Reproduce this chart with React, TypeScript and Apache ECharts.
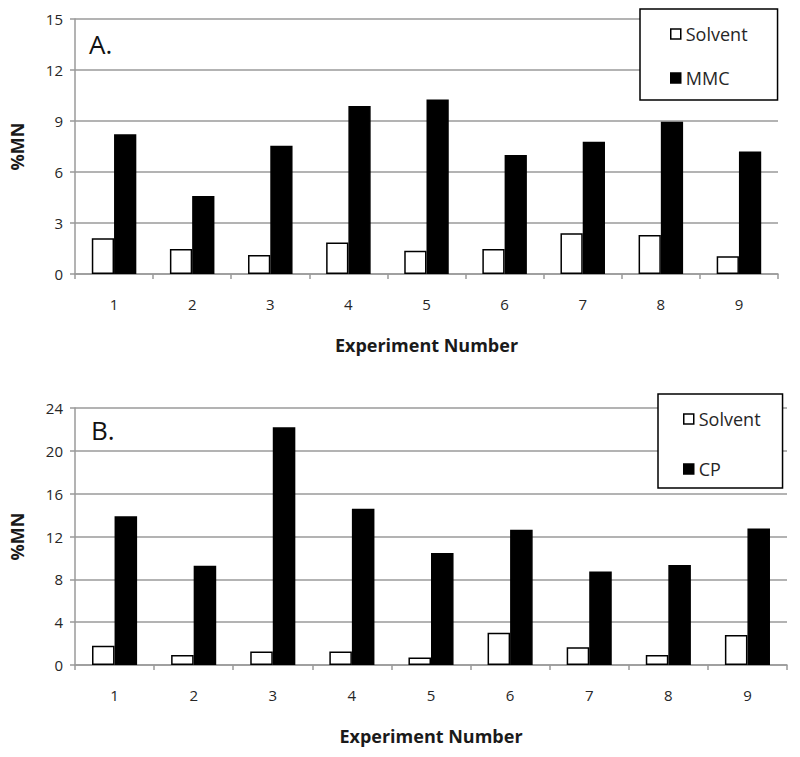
import React, { useEffect, useRef } from "react";
import * as echarts from "echarts";

const categories = ["1", "2", "3", "4", "5", "6", "7", "8", "9"];
const solventA = [2.1, 1.47, 1.12, 1.86, 1.37, 1.47, 2.39, 2.29, 1.04];
const mmcA = [8.22, 4.59, 7.55, 9.88, 10.27, 7.0, 7.78, 8.96, 7.2];
const solventB = [1.8, 0.94, 1.25, 1.25, 0.69, 3.02, 1.65, 0.94, 2.81];
const cpB = [13.9, 9.26, 22.2, 14.6, 10.45, 12.63, 8.73, 9.35, 12.75];
const yTicksA = { min: 0, max: 15, interval: 3 };
const yTicksB = { min: 0, max: 24, interval: 4 };

const FONT = "'Open Sans', 'Noto Sans', sans-serif";
const GRAY = "#9a9a9a";
const TEXT = "#262626";

export default function App() {
  const ref = useRef<HTMLDivElement>(null);
  useEffect(() => {
    if (!ref.current) return;
    const chart = echarts.init(ref.current, undefined, { renderer: "svg" });

    const xAxisBase = (gridIndex: number) => ({
      type: "category" as const,
      gridIndex,
      data: categories,
      name: "Experiment Number",
      nameLocation: "middle" as const,
      nameGap: 62,
      nameTextStyle: { fontFamily: FONT, fontSize: 18, fontWeight: "bold", color: "#1a1a1a" },
      axisLine: { show: true, lineStyle: { color: GRAY, width: 1.5 } },
      axisTick: { show: true, alignWithLabel: false, length: 5, lineStyle: { color: GRAY, width: 1.5 } },
      axisLabel: { fontFamily: FONT, fontSize: 15, color: TEXT, margin: 22 },
      splitLine: { show: false },
    });
    const yAxisBase = (gridIndex: number, t: { min: number; max: number; interval: number }) => ({
      type: "value" as const,
      gridIndex,
      min: t.min,
      max: t.max,
      interval: t.interval,
      name: "%MN",
      nameLocation: "middle" as const,
      nameGap: 49,
      nameRotate: 90,
      nameTextStyle: { fontFamily: FONT, fontSize: 18, fontWeight: "bold", color: "#1a1a1a" },
      axisLine: { show: true, lineStyle: { color: GRAY, width: 1.5 } },
      axisTick: { show: true, length: 5, lineStyle: { color: GRAY, width: 1.5 } },
      axisLabel: { fontFamily: FONT, fontSize: 15, color: TEXT, margin: 12 },
      splitLine: { show: true, lineStyle: { color: GRAY, width: 1.5 } },
    });
    const barBase = {
      type: "bar" as const,
      barGap: "0%",
      barCategoryGap: "43%",
    };
    const solventStyle = { color: "#ffffff", borderColor: "#000", borderWidth: 1.5 };
    const blackStyle = { color: "#000000", borderColor: "#000", borderWidth: 1.5 };

    const legendBase = {
      orient: "vertical" as const,
      icon: "rect",
      itemWidth: 10,
      itemHeight: 10,
      borderColor: "#000",
      borderWidth: 1.5,
      backgroundColor: "#fff",
      textStyle: { fontFamily: FONT, fontSize: 18, color: TEXT, lineHeight: 16 },
      itemStyle: { borderWidth: 1.5 },
    };

    chart.setOption({
      animation: false,
      backgroundColor: "#fff",
      grid: [
        { left: 75, right: 22, top: 19, height: 255 },
        { left: 74, right: 13, top: 408, height: 257 },
      ],
      xAxis: [xAxisBase(0), xAxisBase(1)],
      yAxis: [yAxisBase(0, yTicksA), yAxisBase(1, yTicksB)],
      legend: [
        {
          ...legendBase,
          data: ["Solvent", "MMC"],
          left: 640,
          top: 9,
          itemGap: 26,
          padding: [16, 30, 13, 30],
        },
        {
          ...legendBase,
          data: ["Solvent ", "CP"],
          formatter: (n: string) => n.trim(),
          left: 658,
          top: 394,
          itemGap: 32,
          padding: [16, 22, 10, 25],
        },
      ],
      series: [
        { ...barBase, name: "Solvent", xAxisIndex: 0, yAxisIndex: 0, data: solventA, itemStyle: solventStyle },
        { ...barBase, name: "MMC", xAxisIndex: 0, yAxisIndex: 0, data: mmcA, itemStyle: blackStyle },
        { ...barBase, name: "Solvent ", xAxisIndex: 1, yAxisIndex: 1, data: solventB, itemStyle: solventStyle },
        { ...barBase, name: "CP", xAxisIndex: 1, yAxisIndex: 1, data: cpB, itemStyle: blackStyle },
      ],
      graphic: [
        { type: "text", left: 89, top: 31, style: { text: "A.", font: `26px ${FONT}`, fill: "#111" } },
        { type: "text", left: 91, top: 417, style: { text: "B.", font: `26px ${FONT}`, fill: "#111" } },
      ],
    });
    return () => chart.dispose();
  }, []);
  return <div ref={ref} style={{ position: "absolute", left: 0, top: 0, width: 800, height: 757 }} />;
}
